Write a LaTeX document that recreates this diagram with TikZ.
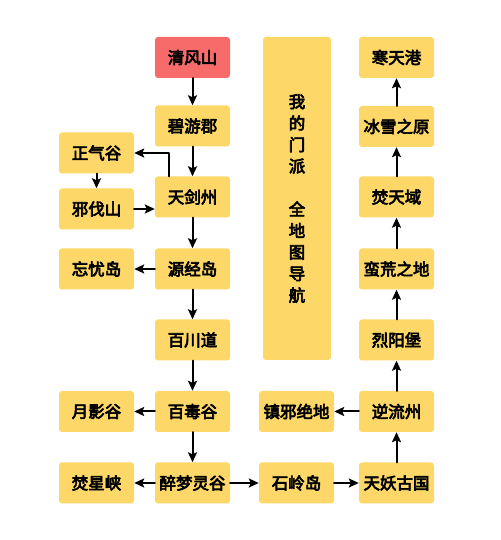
\documentclass[tikz,border=0pt]{standalone}
\usepackage{fontspec}
\newfontfamily\cjk{Noto Sans CJK SC}[FakeBold=4]
\usetikzlibrary{arrows.meta}
\definecolor{boxyellow}{HTML}{FDD768}
\definecolor{boxred}{HTML}{F76B6B}

\begin{document}
\begin{tikzpicture}[line cap=round,line join=round,>={Stealth[length=10pt,width=9pt,inset=2pt]},x=1pt,y=1pt,
  place/.style={rectangle,rounded corners=3pt,fill=boxyellow,minimum width=75pt,minimum height=41pt,
    inner sep=0pt,font=\cjk\fontsize{16.5}{18}\selectfont},
  go/.style={->,line width=2pt}]
\useasboundingbox (0,0) rectangle (500,540);
% main column
\node[place,fill=boxred] (qingfeng) at (192.5,482.5) {清风山};
\node[place] (biyou)    at (192.5,414) {碧游郡};
\node[place] (tianjian) at (192.5,343) {天剑州};
\node[place] (yuanjing) at (192.5,271) {源经岛};
\node[place] (baichuan) at (192.5,200) {百川道};
\node[place] (baidu)    at (192.5,128.5) {百毒谷};
\node[place] (zuimeng)  at (192.5,57) {醉梦灵谷};
% left column
\node[place] (zhengqi)  at (96.5,387) {正气谷};
\node[place] (xiefa)    at (96.5,331) {邪伐山};
\node[place] (wangyou)  at (96.5,271) {忘忧岛};
\node[place] (yueying)  at (96.5,128.5) {月影谷};
\node[place] (fenxing)  at (96.5,57) {焚星峡};
% middle column
\node[place] (zhenxie)  at (296.5,128.5) {镇邪绝地};
\node[place] (shiling)  at (296.5,57) {石岭岛};
\node[place,minimum width=68pt,minimum height=323pt,font=\cjk\fontsize{16.5}{21.5}\selectfont,
  align=center] (title) at (297,341.5) {我\\的\\门\\派\\ \\全\\地\\图\\导\\航};
% right column
\node[place] (hantian)  at (396.5,482.5) {寒天港};
\node[place] (bingxue)  at (396.5,413.5) {冰雪之原};
\node[place] (fentian)  at (396.5,343) {焚天域};
\node[place] (manhuang) at (396.5,271) {蛮荒之地};
\node[place] (lieyang)  at (396.5,200) {烈阳堡};
\node[place] (niliu)    at (396.5,128.5) {逆流州};
\node[place] (tianyao)  at (396.5,57) {天妖古国};
%
\draw[go] (qingfeng) -- (biyou);
\draw[go] (biyou) -- (tianjian);
\draw[go] ([xshift=-24pt]tianjian.north) |- (zhengqi.east);
\draw[go] (zhengqi) -- (xiefa);
\draw[go] (xiefa.east) -- (xiefa.east -| tianjian.west);
\draw[go] (tianjian) -- (yuanjing);
\draw[go] (yuanjing) -- (wangyou);
\draw[go] (yuanjing) -- (baichuan);
\draw[go] (baichuan) -- (baidu);
\draw[go] (baidu) -- (yueying);
\draw[go] (baidu) -- (zuimeng);
\draw[go] (zuimeng) -- (fenxing);
\draw[go] (zuimeng) -- (shiling);
\draw[go] (shiling) -- (tianyao);
\draw[go] (tianyao) -- (niliu);
\draw[go] (niliu) -- (zhenxie);
\draw[go] (niliu) -- (lieyang);
\draw[go] (lieyang) -- (manhuang);
\draw[go] (manhuang) -- (fentian);
\draw[go] (fentian) -- (bingxue);
\draw[go] (bingxue) -- (hantian);
\end{tikzpicture}
\end{document}
